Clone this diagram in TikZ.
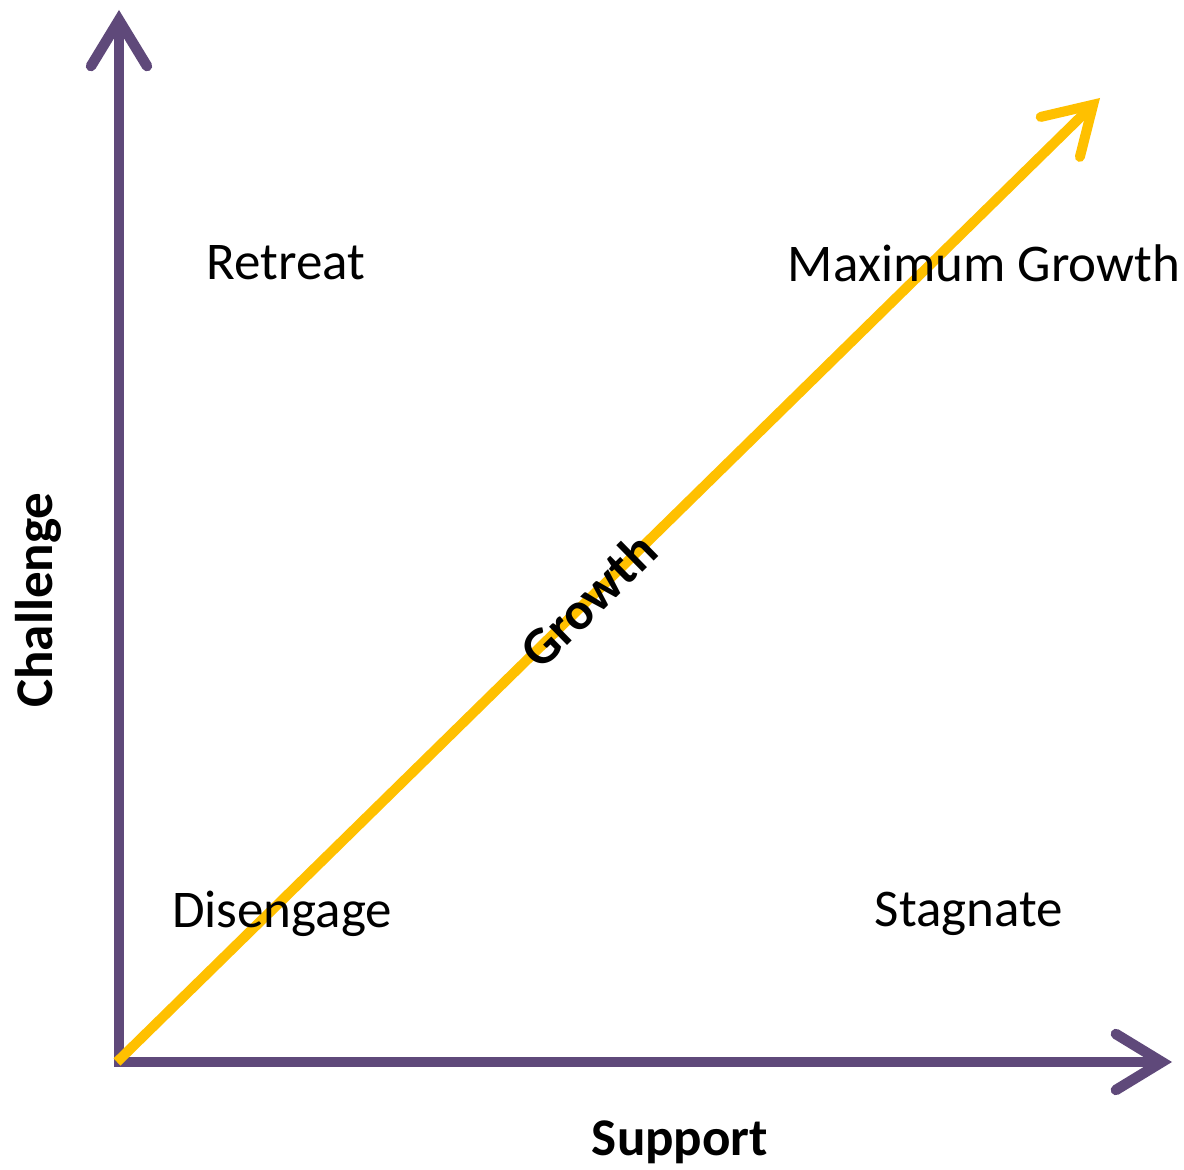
\documentclass[tikz,border=0pt]{standalone}
\usepackage{fontspec}
\setmainfont{Carlito}
\usetikzlibrary{arrows.meta}
\definecolor{axispurple}{HTML}{5F497A}
\definecolor{growthgold}{HTML}{FFC000}
\begin{document}
\begin{tikzpicture}[x=1pt,y=1pt,
  axis/.style={draw=axispurple,line width=10.5pt,
    -{Straight Barb[length=46pt,width=56pt,line cap=round,line join=miter]}},
  growtharrow/.style={draw=growthgold,line width=10pt,
    -{Straight Barb[length=46pt,width=56pt,line cap=round,line join=miter]}},
  quadrant/.style={font=\fontsize{53}{62}\selectfont,inner sep=0pt},
  axislabel/.style={font=\fontsize{53}{62}\selectfont\bfseries,inner sep=0pt}]
\useasboundingbox (0,0) rectangle (1184,1170);
% origin and axis ends
\coordinate (origin) at (119,108);
\coordinate (ystart) at (119,103);
\coordinate (ytip) at (119,1160);
\coordinate (xstart) at (114,108);
\coordinate (xtip) at (1172,108);
\coordinate (gstart) at (117,108);
\coordinate (gtip) at (1100,1072);
% axes
\draw[axis] (ystart) -- (ytip);
\draw[axis] (xstart) -- (xtip);
% growth diagonal
\draw[growtharrow] (gstart) -- (gtip);
% labels
\node[quadrant] (retreat) at (286,907) {Retreat};
\node[quadrant] (maxgrowth) at (984,907) {Maximum Growth};
\node[quadrant] (disengage) at (282,256) {Disengage};
\node[quadrant] (stagnate) at (969,256) {Stagnate};
\node[axislabel,rotate=90] (challenge) at (38,570) {Challenge};
\node[axislabel] (support) at (680,28) {Support};
\node[axislabel,rotate=44.5] (growth) at (588,570) {Growth};
\end{tikzpicture}
\end{document}
